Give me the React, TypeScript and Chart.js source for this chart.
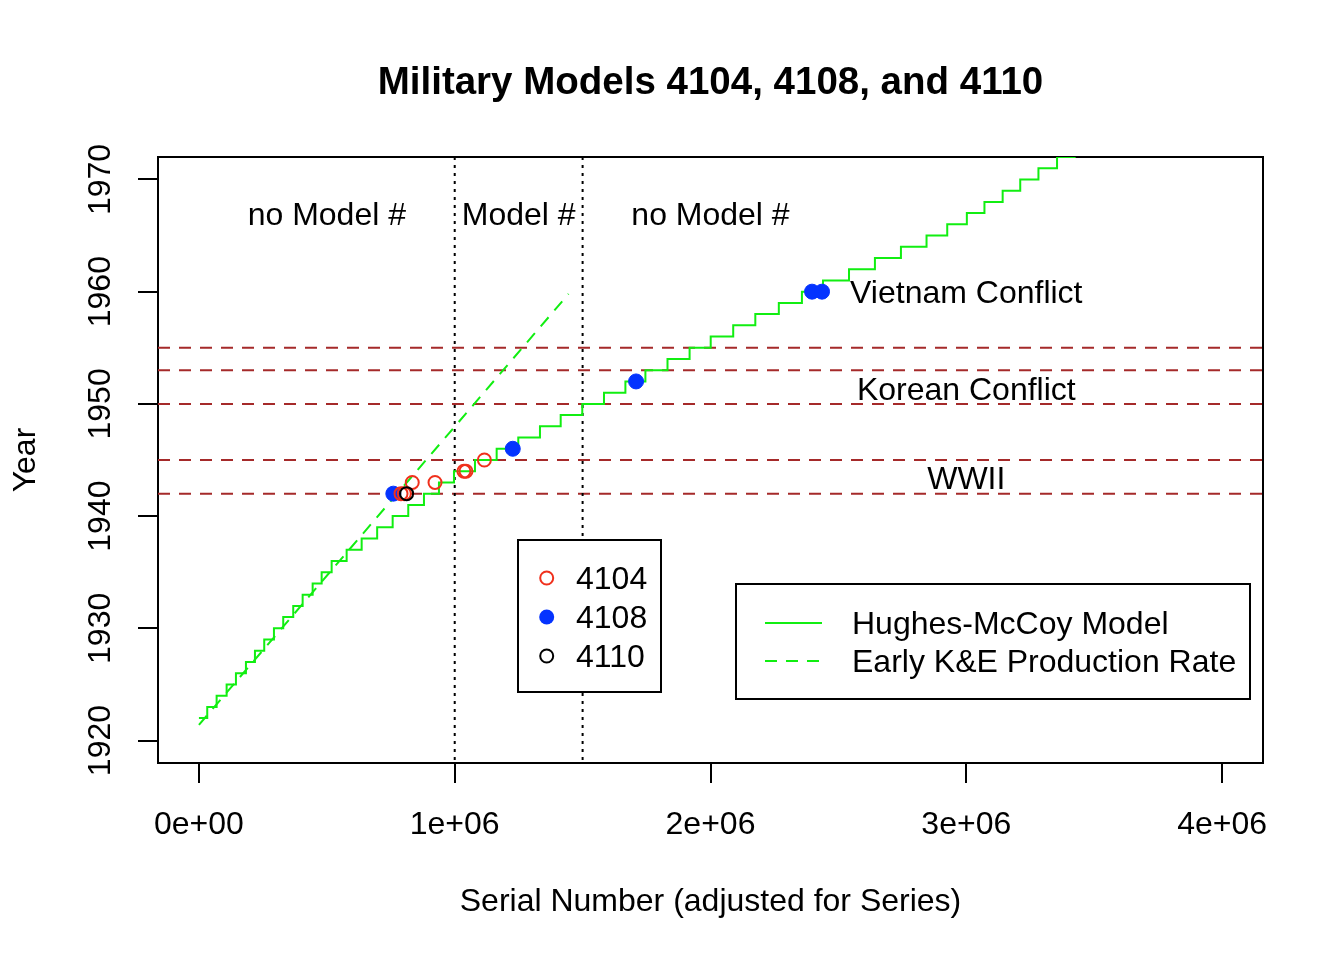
import { useEffect, useRef } from "react";
import { Chart, registerables } from "chart.js";

Chart.register(...registerables);

// Hughes-McCoy model: first serial number of each year (step function)
const hmYears = [
  1922, 1923, 1924, 1925, 1926, 1927, 1928, 1929, 1930, 1931, 1932, 1933, 1934,
  1935, 1936, 1937, 1938, 1939, 1940, 1941, 1942, 1943, 1944, 1945, 1946, 1947,
  1948, 1949, 1950, 1951, 1952, 1953, 1954, 1955, 1956, 1957, 1958, 1959, 1960,
  1961, 1962, 1963, 1964, 1965, 1966, 1967, 1968, 1969, 1970, 1971, 1972, 1973,
];
const hmSerials = [
  0, 32500, 69200, 108300, 144700, 183800, 219000, 255300, 293300, 329600,
  368700, 405500, 444600, 479800, 518900, 577500, 636200, 696800, 757400,
  818400, 879800, 938400, 997100, 1079200, 1164000, 1248500, 1333300, 1414300,
  1498700, 1583600, 1667300, 1745500, 1831900, 1918300, 2000800, 2088800,
  2175200, 2267100, 2357400, 2439900, 2541500, 2642800, 2744500, 2844600,
  2925500, 3002200, 3071000, 3142200, 3210900, 3282100, 3354800, 3423700,
];

// Early K&E production rate (straight line)
const keSerials = [0, 1445000];
const keYears = [1921.4, 1959.8];

// observed instruments
const m4104Serials = [790000, 803000, 834000, 923000, 1036000, 1044000, 1116000];
const m4104Years = [1942, 1942, 1943, 1943, 1944, 1944, 1945];
const m4108Serials = [760000, 1227000, 1709000, 2397000, 2436000];
const m4108Years = [1942, 1946, 1952, 1960, 1960];
const m4110Serials = [812000];
const m4110Years = [1942];

// reference lines
const warYears = [1942, 1945, 1950, 1953, 1955];
const modelBreaks = [1000000, 1500000];

const xTicks = [0, 1000000, 2000000, 3000000, 4000000];
const xTickLabels = ["0e+00", "1e+06", "2e+06", "3e+06", "4e+06"];
const yTicks = [1920, 1930, 1940, 1950, 1960, 1970];

const regionNotes = [
  { text: "no Model #", x: 500000, y: 1967 },
  { text: "Model #", x: 1250000, y: 1967 },
  { text: "no Model #", x: 2000000, y: 1967 },
];
const conflictNotes = [
  { text: "Vietnam Conflict", x: 3000000, y: 1960 },
  { text: "Korean Conflict", x: 3000000, y: 1951.4 },
  { text: "WWII", x: 3000000, y: 1943.4 },
];

const FONT = '"Liberation Sans", Arial, Helvetica, sans-serif';
const GREEN = "#11EE11";
const RED = "#F0301C";
const BLUE = "#0433FF";
const BROWN = "#A52A2A";
const CAP = 0.716;

const toPts = (xs: number[], ys: number[]) => xs.map((x, i) => ({ x, y: ys[i] }));

// text centred on its cap height
function capText(ctx: CanvasRenderingContext2D, s: string, x: number, y: number, size: number, align: CanvasTextAlign = "center") {
  ctx.textAlign = align;
  ctx.textBaseline = "alphabetic";
  ctx.fillText(s, x, y + (size * CAP) / 2);
}

const rDecor = {
  id: "rDecor",
  beforeDatasetsDraw(chart: Chart) {
    const { ctx, chartArea: a } = chart;
    const x = chart.scales.x;
    const y = chart.scales.y;
    ctx.save();
    // plot box, drawn under the data like R does
    ctx.strokeStyle = "#000";
    ctx.lineWidth = 2;
    ctx.strokeRect(a.left, a.top, a.right - a.left, a.bottom - a.top);

    ctx.beginPath();
    ctx.rect(a.left, a.top, a.right - a.left, a.bottom - a.top);
    ctx.clip();
    ctx.strokeStyle = BROWN;
    ctx.setLineDash([12, 9]);
    warYears.forEach((v) => {
      const py = y.getPixelForValue(v);
      ctx.beginPath();
      ctx.moveTo(a.left, py);
      ctx.lineTo(a.right, py);
      ctx.stroke();
    });
    ctx.strokeStyle = "#000";
    ctx.setLineDash([3, 5]);
    modelBreaks.forEach((v) => {
      const px = x.getPixelForValue(v);
      ctx.beginPath();
      ctx.moveTo(px, a.top);
      ctx.lineTo(px, a.bottom);
      ctx.stroke();
    });
    ctx.restore();
  },
  afterDatasetsDraw(chart: Chart) {
    const { ctx } = chart;
    const x = chart.scales.x;
    const y = chart.scales.y;
    ctx.save();
    ctx.fillStyle = "#000";
    ctx.font = `32px ${FONT}`;
    [...regionNotes, ...conflictNotes].forEach((n) => {
      capText(ctx, n.text, x.getPixelForValue(n.x), y.getPixelForValue(n.y), 32);
    });

    // legend: models
    ctx.lineWidth = 2;
    ctx.setLineDash([]);
    ctx.fillStyle = "#fff";
    ctx.fillRect(518, 540, 143, 152);
    ctx.strokeStyle = "#000";
    ctx.strokeRect(518, 540, 143, 152);
    const rows = [
      { label: "4104", color: RED, filled: false },
      { label: "4108", color: BLUE, filled: true },
      { label: "4110", color: "#000", filled: false },
    ];
    rows.forEach((r, i) => {
      const cy = 578 + i * 39;
      ctx.beginPath();
      ctx.arc(546.7, cy, r.filled ? 7.5 : 6.5, 0, Math.PI * 2);
      if (r.filled) {
        ctx.fillStyle = r.color;
        ctx.fill();
      } else {
        ctx.strokeStyle = r.color;
        ctx.lineWidth = 2;
        ctx.stroke();
      }
      ctx.fillStyle = "#000";
      capText(ctx, r.label, 576, cy, 32, "left");
    });

    // legend: production models
    ctx.fillStyle = "#fff";
    ctx.fillRect(736, 584, 514, 115);
    ctx.strokeStyle = "#000";
    ctx.lineWidth = 2;
    ctx.strokeRect(736, 584, 514, 115);
    const lines = [
      { label: "Hughes-McCoy Model", dash: [] as number[] },
      { label: "Early K&E Production Rate", dash: [12, 9] },
    ];
    lines.forEach((l, i) => {
      const cy = 623 + i * 38;
      ctx.strokeStyle = GREEN;
      ctx.setLineDash(l.dash);
      ctx.beginPath();
      ctx.moveTo(765, cy);
      ctx.lineTo(822, cy);
      ctx.stroke();
      ctx.setLineDash([]);
      ctx.fillStyle = "#000";
      capText(ctx, l.label, 852, cy, 32, "left");
    });
    ctx.restore();
  },
  afterDraw(chart: Chart) {
    const { ctx, chartArea: a } = chart;
    const x = chart.scales.x;
    const y = chart.scales.y;
    const cx = (a.left + a.right) / 2;
    const cy = (a.top + a.bottom) / 2;
    ctx.save();
    ctx.fillStyle = "#000";
    ctx.font = `bold 38.5px ${FONT}`;
    capText(ctx, "Military Models 4104, 4108, and 4110", cx, 80, 38.5);

    ctx.font = `32px ${FONT}`;
    xTicks.forEach((v, i) => capText(ctx, xTickLabels[i], x.getPixelForValue(v), 823, 32));
    capText(ctx, "Serial Number (adjusted for Series)", cx, 900, 32);

    yTicks.forEach((v) => {
      ctx.save();
      ctx.translate(99, y.getPixelForValue(v));
      ctx.rotate(-Math.PI / 2);
      capText(ctx, String(v), 0, 0, 32);
      ctx.restore();
    });
    ctx.translate(24, cy);
    ctx.rotate(-Math.PI / 2);
    capText(ctx, "Year", 0, 0, 32);
    ctx.restore();
  },
};

function MilitaryModelsChart() {
  const chartRef = useRef<HTMLCanvasElement>(null);
  const chartInstance = useRef<Chart | null>(null);

  useEffect(() => {
    if (!chartRef.current) return;
    if (chartInstance.current) chartInstance.current.destroy();
    const ctx = chartRef.current.getContext("2d");
    if (!ctx) return;

    chartInstance.current = new Chart(ctx, {
      type: "scatter",
      data: {
        datasets: [
          {
            label: "4110",
            data: toPts(m4110Serials, m4110Years),
            pointRadius: 6.5,
            pointBorderWidth: 2,
            borderColor: "#000",
            backgroundColor: "rgba(0,0,0,0)",
            showLine: false,
          },
          {
            label: "4104",
            data: toPts(m4104Serials, m4104Years),
            pointRadius: 6.5,
            pointBorderWidth: 2,
            borderColor: RED,
            backgroundColor: "rgba(0,0,0,0)",
            showLine: false,
          },
          {
            label: "4108",
            data: toPts(m4108Serials, m4108Years),
            pointRadius: 7.5,
            pointBorderWidth: 1,
            borderColor: BLUE,
            backgroundColor: BLUE,
            showLine: false,
          },
          {
            label: "Early K&E Production Rate",
            data: toPts(keSerials, keYears),
            showLine: true,
            borderColor: GREEN,
            borderWidth: 2,
            borderDash: [12, 9],
            pointRadius: 0,
          },
          {
            label: "Hughes-McCoy Model",
            data: toPts(hmSerials, hmYears),
            showLine: true,
            stepped: "before",
            borderColor: GREEN,
            borderWidth: 2,
            pointRadius: 0,
          },
        ],
      },
      options: {
        responsive: false,
        animation: false,
        events: [],
        devicePixelRatio: 1,
        layout: { padding: { left: 0, top: 157, right: 81, bottom: 0 } },
        scales: {
          x: {
            type: "linear",
            min: -160000,
            max: 4160000,
            afterFit: (s: any) => {
              s.height = 197;
            },
            afterBuildTicks: (s: any) => {
              s.ticks = xTicks.map((value) => ({ value }));
            },
            ticks: { display: false },
            border: { display: false },
            grid: { drawOnChartArea: false, tickLength: 20, color: "#000", lineWidth: 2 },
          },
          y: {
            type: "linear",
            min: 1918,
            max: 1972,
            afterFit: (s: any) => {
              s.width = 158;
            },
            afterBuildTicks: (s: any) => {
              s.ticks = yTicks.map((value) => ({ value }));
            },
            ticks: { display: false },
            border: { display: false },
            grid: { drawOnChartArea: false, tickLength: 20, color: "#000", lineWidth: 2 },
          },
        },
        plugins: {
          legend: { display: false },
          tooltip: { enabled: false },
          title: { display: false },
        },
      },
      plugins: [rDecor],
    });

    return () => {
      if (chartInstance.current) {
        chartInstance.current.destroy();
        chartInstance.current = null;
      }
    };
  }, []);

  return (
    <div style={{ position: "fixed", left: 0, top: 0, width: 1344, height: 960, background: "#fff" }}>
      <canvas ref={chartRef} width={1344} height={960} style={{ display: "block" }} />
    </div>
  );
}

export default function App() {
  return <MilitaryModelsChart />;
}
